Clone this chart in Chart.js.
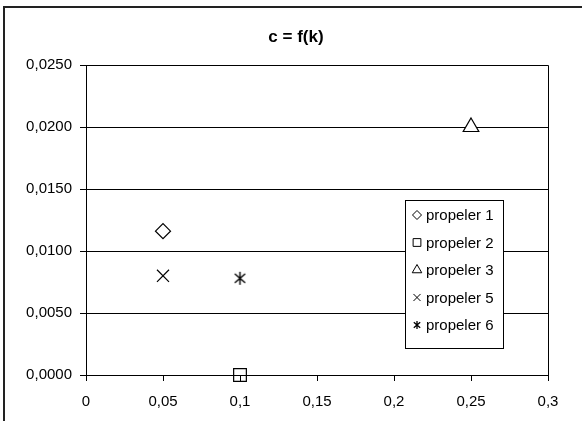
<!DOCTYPE html>
<html>
<head>
<meta charset="utf-8">
<script src="https://cdn.jsdelivr.net/npm/chart.js@4"></script>
<style>
  html, body { margin: 0; padding: 0; background: #fff; }
  canvas { display: block; }
</style>
</head>
<body>
<canvas id="grafico" width="582" height="421"></canvas>
<script>
// Dados (k no eixo x, c no eixo y)
const tituloGrafico = 'c = f(k)';
const nomesSeries = ['propeler 1', 'propeler 2', 'propeler 3', 'propeler 5', 'propeler 6'];
const valoresK = [0.05, 0.1, 0.25, 0.05, 0.1];
const valoresC = [0.0116, 0.0, 0.0200, 0.0080, 0.0078];
const rotulosX = ['0', '0,05', '0,1', '0,15', '0,2', '0,25', '0,3'];
const rotulosY = ['0,0000', '0,0050', '0,0100', '0,0150', '0,0200', '0,0250'];

const fonte = '"Liberation Sans", Arial, sans-serif';

// Asterisco de seis pontas (linha vertical + X)
function criarAsterisco(tam, espessura) {
  const c = document.createElement('canvas');
  c.width = tam; c.height = tam;
  const g = c.getContext('2d');
  const m = tam / 2, r = tam / 2 - 1;
  g.strokeStyle = '#000';
  g.lineWidth = espessura;
  g.beginPath();
  g.moveTo(m, m - r); g.lineTo(m, m + r);
  g.moveTo(m - r * 0.8, m - r * 0.7); g.lineTo(m + r * 0.8, m + r * 0.7);
  g.moveTo(m + r * 0.8, m - r * 0.7); g.lineTo(m - r * 0.8, m + r * 0.7);
  g.stroke();
  return c;
}

const asterisco = criarAsterisco(15, 1.4);
const asteriscoPequeno = criarAsterisco(10, 1.3);

const estilos = ['rectRot', 'rect', 'triangle', 'crossRot', asterisco];
const estilosLegenda = ['rectRot', 'rect', 'triangle', 'crossRot', asteriscoPequeno];
const raios = [7.5, 9, 9, 8.5, 7];
const raiosLegenda = [4.5, 5.5, 5.5, 5, 4];
const fundos = ['#fff', 'rgba(0,0,0,0)', '#fff', '#fff', '#fff'];

const conjuntos = nomesSeries.map((nome, i) => ({
  label: nome,
  data: [{ x: valoresK[i], y: valoresC[i] }],
  pointStyle: estilos[i],
  pointRadius: raios[i],
  pointHoverRadius: raios[i],
  pointBorderColor: '#000',
  pointBackgroundColor: fundos[i],
  pointBorderWidth: 1.2,
  clip: false
}));

// Fundo branco, moldura externa, título e contorno da área de plotagem
const moldura = {
  id: 'moldura',
  beforeDraw(chart) {
    const ctx = chart.ctx;
    ctx.save();
    ctx.fillStyle = '#fff';
    ctx.fillRect(0, 0, chart.width, chart.height);
    ctx.strokeStyle = '#222';
    ctx.lineWidth = 2;
    ctx.strokeRect(4, 7, 800, 800);
    ctx.fillStyle = '#000';
    ctx.font = 'bold 17px ' + fonte;
    ctx.textAlign = 'center';
    ctx.textBaseline = 'middle';
    ctx.fillText(tituloGrafico, 296, 37);
    ctx.restore();
  },
  afterDatasetsDraw(chart) {
    const { ctx, chartArea: a } = chart;
    ctx.save();
    ctx.strokeStyle = '#000';
    ctx.lineWidth = 1;
    ctx.beginPath();
    ctx.moveTo(Math.round(a.left) + 0.5, Math.round(a.top) + 0.5);
    ctx.lineTo(Math.round(a.right) + 0.5, Math.round(a.top) + 0.5);
    ctx.lineTo(Math.round(a.right) + 0.5, Math.round(a.bottom) + 0.5);
    ctx.stroke();
    ctx.restore();
  }
};

// Legenda desenhada dentro da área do gráfico
const legendaInterna = {
  id: 'legendaInterna',
  afterDraw(chart) {
    const ctx = chart.ctx;
    const x0 = 405.5, y0 = 200.5, w = 98, h = 148, passo = 27.5;
    ctx.save();
    ctx.fillStyle = '#fff';
    ctx.fillRect(x0, y0, w, h);
    ctx.strokeStyle = '#000';
    ctx.lineWidth = 1;
    ctx.strokeRect(x0, y0, w, h);
    ctx.font = '15px ' + fonte;
    ctx.textBaseline = 'middle';
    chart.data.datasets.forEach((ds, i) => {
      const y = 215 + i * passo;
      ctx.strokeStyle = '#000';
      ctx.fillStyle = '#fff';
      Chart.helpers.drawPoint(ctx, {
        pointStyle: estilosLegenda[i],
        radius: raiosLegenda[i],
        borderWidth: 1.1,
        rotation: 0
      }, 417, y);
      ctx.fillStyle = '#000';
      ctx.fillText(ds.label, 426, y + 1);
    });
    ctx.restore();
  }
};

new Chart(document.getElementById('grafico'), {
  type: 'scatter',
  data: { datasets: conjuntos },
  options: {
    responsive: false,
    animation: false,
    devicePixelRatio: 1,
    layout: { padding: { left: 0, right: 34, top: 65, bottom: 0 } },
    plugins: {
      legend: { display: false },
      tooltip: { enabled: false },
      title: { display: false }
    },
    scales: {
      x: {
        type: 'linear',
        min: 0,
        max: 0.3,
        afterFit(s) { s.height = 46; },
        afterBuildTicks(s) { s.ticks = rotulosX.map((_, i) => ({ value: i * 0.05 })); },
        ticks: {
          color: '#000',
          padding: 12,
          maxRotation: 0,
          autoSkip: false,
          font: { family: fonte, size: 15 },
          callback: (v, i) => rotulosX[i]
        },
        grid: { drawOnChartArea: false, color: '#000', tickLength: 6 },
        border: { display: true, color: '#000', width: 1 }
      },
      y: {
        type: 'linear',
        min: 0,
        max: 0.025,
        afterFit(s) { s.width = 86; },
        afterBuildTicks(s) { s.ticks = rotulosY.map((_, i) => ({ value: i * 0.005 })); },
        ticks: {
          color: '#000',
          padding: 8,
          autoSkip: false,
          font: { family: fonte, size: 15 },
          callback: (v, i) => rotulosY[i]
        },
        grid: { color: '#000', tickLength: 6 },
        border: { display: true, color: '#000', width: 1 }
      }
    }
  },
  plugins: [moldura, legendaInterna]
});
</script>
</body>
</html>
